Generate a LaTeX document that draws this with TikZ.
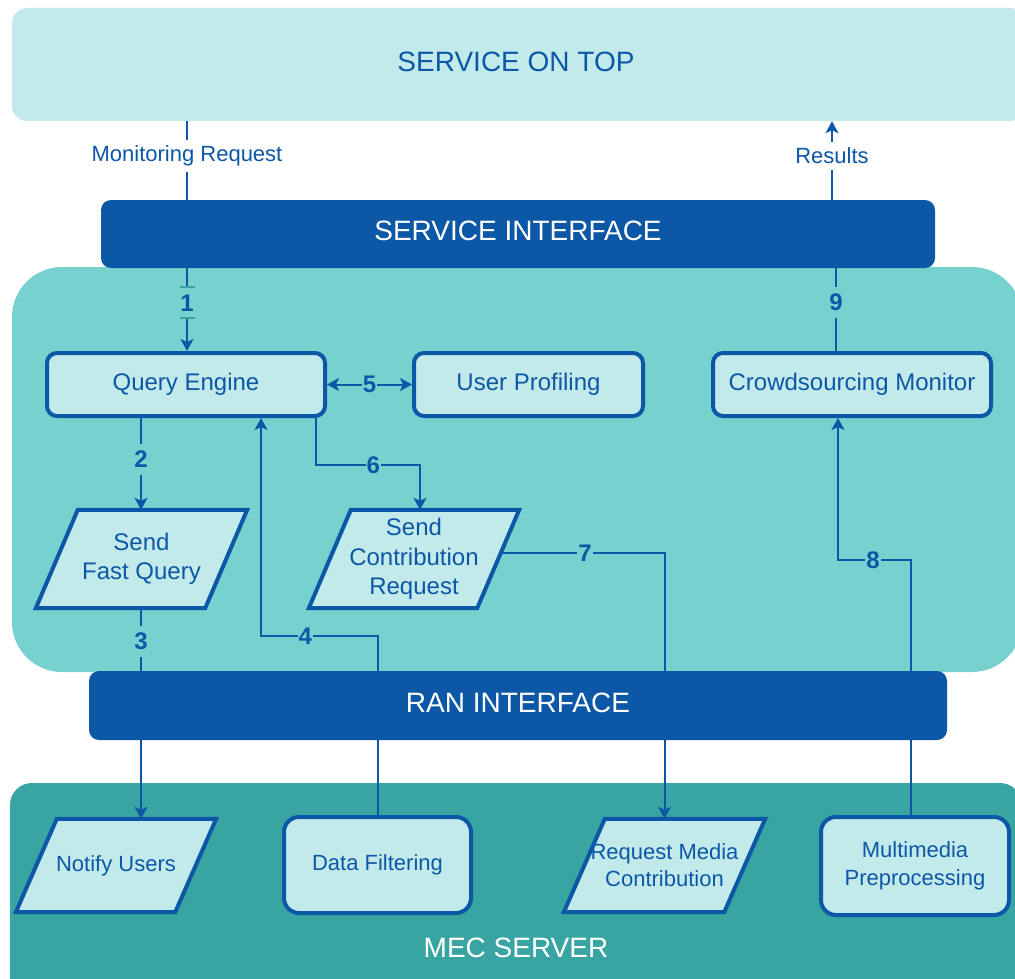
\documentclass[tikz,border=0pt]{standalone}
\usepackage{fontspec}
\setmainfont{Liberation Sans}
\usetikzlibrary{arrows.meta,calc}
\pgfdeclarelayer{back}
\pgfdeclarelayer{mid}
\pgfsetlayers{back,mid,main}
\definecolor{lightc}{HTML}{C3EAEA}
\definecolor{midc}{HTML}{76D1CF}
\definecolor{mecc}{HTML}{38A5A3}
\definecolor{darkb}{HTML}{0D57A7}
\definecolor{tickc}{HTML}{3AA39F}
\tikzset{
  bgbox/.style={inner sep=0pt, text=darkb, font=\fontsize{28}{32}\selectfont},
  bar/.style={fill=darkb, rounded corners=10pt, text=white, inner sep=0pt, text depth=6pt, font=\fontsize{28}{32}\selectfont},
  rbox/.style={draw=darkb, line width=4pt, fill=lightc, rounded corners=10pt, text=darkb, inner sep=0pt, align=center, font=\fontsize{24}{29}\selectfont},
  rboxs/.style={rbox, rounded corners=15pt, font=\fontsize{22}{28}\selectfont},
  pbox/.style={inner sep=0pt, text=darkb, align=center, font=\fontsize{24}{29.5}\selectfont},
  pboxs/.style={pbox, font=\fontsize{22}{27}\selectfont},
  pshape/.style={draw=darkb, line width=4pt, fill=lightc, line join=miter},
  conn/.style={draw=darkb, line width=2pt},
  arr/.style={conn, -{Stealth[length=12pt,width=13pt,inset=3pt]}},
  darr/.style={conn, {Stealth[length=12pt,width=13pt,inset=3pt]}-{Stealth[length=12pt,width=13pt,inset=3pt]}},
  lbl/.style={fill=midc, text=darkb, inner xsep=1pt, inner ysep=7pt, font=\bfseries\fontsize{24}{28}\selectfont},
  lblw/.style={fill=white, text=darkb, inner xsep=1pt, inner ysep=6pt, font=\fontsize{22}{26}\selectfont},
  tickmark/.style={draw=tickc, line width=2pt}
}
\begin{document}
\begin{tikzpicture}[x=1pt,y=-1pt]
\useasboundingbox (0,0) rectangle (1015,979);
\clip (0,0) rectangle (1015,979);

% backgrounds
\begin{pgfonlayer}{back}
\node[bgbox, fill=lightc, rounded corners=15pt, minimum width=1013pt, minimum height=113pt] (sot) at (518.5,64.5) {};
\node[bgbox] (sott) at (516,62) {SERVICE ON TOP};
\node[bgbox, fill=midc, rounded corners=50pt, minimum width=1010pt, minimum height=405pt] (core) at (517,469.5) {};
\node[bgbox, fill=mecc, rounded corners=22pt, minimum width=1012pt, minimum height=217pt] (mec) at (516,891.5) {};
\node[bgbox, text=white] (mect) at (516,948) {MEC SERVER};
\end{pgfonlayer}

% interface bars
\node[bar, minimum width=834pt, minimum height=68pt] (si) at (518,234) {SERVICE INTERFACE};
\node[bar, minimum width=858pt, minimum height=69pt] (ran) at (518,705.5) {RAN INTERFACE};

% rounded boxes
\node[rbox, minimum width=278pt, minimum height=63pt] (qe) at (186,384.5) {Query Engine};
\node[rbox, minimum width=229pt, minimum height=63pt] (up) at (528.5,384.5) {User Profiling};
\node[rbox, minimum width=278pt, minimum height=63pt] (cm) at (852,384.5) {Crowdsourcing Monitor};
\node[rboxs, minimum width=187pt, minimum height=96pt] (df) at (377.5,865) {Data Filtering};
\node[rboxs, minimum width=188pt, minimum height=98pt] (mp) at (915,866) {Multimedia\\Preprocessing};

% parallelogram nodes (text) and their outlines
\node[pbox, minimum width=211pt, minimum height=98pt] (sfq) at (141.5,559) {Send\\Fast Query};
\node[pbox, minimum width=210pt, minimum height=98pt] (scr) at (414,559) {Send\\Contribution\\Request};
\node[pboxs, minimum width=200pt, minimum height=93pt] (nu) at (116,865.5) {Notify Users};
\node[pboxs, minimum width=201pt, minimum height=93pt] (rmc) at (664.5,865.5) {Request Media\\Contribution};

\begin{pgfonlayer}{mid}
\draw[pshape] ([xshift=42pt]sfq.north west) -- (sfq.north east) -- ([xshift=-42pt]sfq.south east) -- (sfq.south west) -- cycle;
\draw[pshape] ([xshift=42pt]scr.north west) -- (scr.north east) -- ([xshift=-42pt]scr.south east) -- (scr.south west) -- cycle;
\draw[pshape] ([xshift=41pt]nu.north west) -- (nu.north east) -- ([xshift=-41pt]nu.south east) -- (nu.south west) -- cycle;
\draw[pshape] ([xshift=41pt]rmc.north west) -- (rmc.north east) -- ([xshift=-41pt]rmc.south east) -- (rmc.south west) -- cycle;

% helper coordinates
\coordinate (k187) at (187,0);
\coordinate (k832) at (832,0);
\coordinate (k836) at (836,0);
\coordinate (k141) at (141,0);
\coordinate (b4a) at (377.5,636);
\coordinate (b4b) at (261,636);
\coordinate (b6a) at (316,465);
\coordinate (b6b) at (420,465);
\coordinate (b7s) at ($(scr.north east)!0.44!([xshift=-42pt]scr.south east)$);
\coordinate (b7a) at (rmc.north |- b7s);
\coordinate (b8a) at (911,560);
\coordinate (b8b) at (838,560);

% connectors
\draw[conn] (sot.south -| k187) -- node[lblw, pos=0.44] {Monitoring Request} (si.north -| k187);
\draw[arr] (si.north -| k832) -- node[lblw, pos=0.56] {Results} (sot.south -| k832);
\draw[arr] (si.south -| k187) -- node[lbl, pos=0.42, inner ysep=7.5pt] (l1) {1} (qe.north -| k187);
\draw[tickmark] (180,287) -- (195,287) (180,318) -- (195,318);
\draw[arr] (qe.south -| k141) -- node[lbl, pos=0.45] {2} (sfq.north -| k141);
\draw[arr] (sfq.south -| k141) -- node[lbl, pos=0.156] {3} (nu.north -| k141);
\draw[arr] (df.north) -- (b4a) -- node[lbl, pos=0.62] {4} (b4b) -- (qe.south -| b4b);
\draw[darr] (qe.east) -- node[lbl] {5} (up.west);
\draw[arr] (qe.south -| b6a) -- (b6a) -- node[lbl, pos=0.55] {6} (b6b) -- (scr.north -| b6b);
\draw[arr] (b7s) -- node[lbl, pos=0.515] {7} (b7a) -- (rmc.north);
\draw[arr] (mp.north -| b8a) -- (b8a) -- node[lbl, pos=0.52] {8} (b8b) -- (cm.south -| b8b);
\draw[conn] (cm.north -| k836) -- node[lbl, pos=0.59] {9} (si.south -| k836);
\end{pgfonlayer}
\end{tikzpicture}
\end{document}
